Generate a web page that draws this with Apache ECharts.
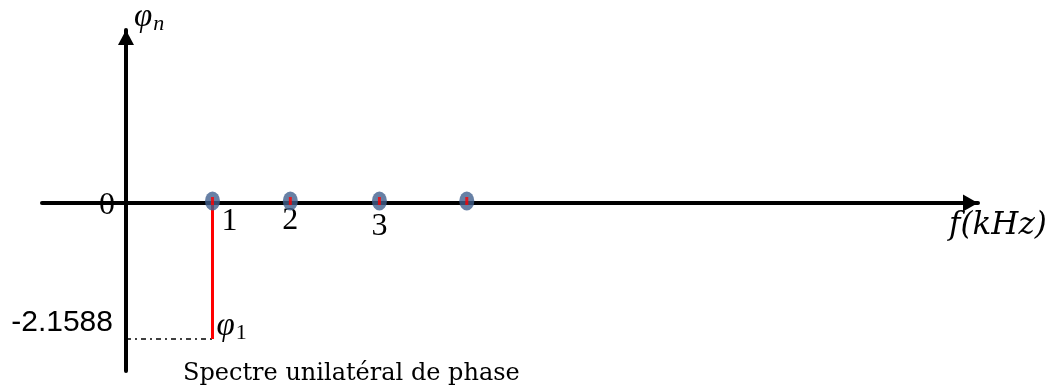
<!DOCTYPE html>
<html>
<head>
<meta charset="utf-8">
<script src="https://cdn.jsdelivr.net/npm/echarts@6/dist/echarts.min.js"></script>
<style>
  html, body { margin: 0; padding: 0; background: #fff; }
  #chart { width: 1053px; height: 389px; }
</style>
</head>
<body>
<div id="chart"></div>
<script>
// harmonic positions along f (kHz), as drawn in the picture
const harmonicPos = [1, 1.9, 2.93, 3.94];
const harmonicLabels = ['1', '2', '3', ''];
const phaseValues = [-2.1588, 0, 0, 0];
const yTickLabels = ['0', '-2.1588'];
const axisNames = { x: 'f(kHz)', y: 'φn' };
const title = 'Spectre unilatéral de phase';

const chart = echarts.init(document.getElementById('chart'));

const dots = harmonicPos.map((x, i) => [x, 0]);

chart.setOption({
  animation: false,
  grid: { left: 42, right: 75, top: 30, bottom: 18 },
  xAxis: {
    type: 'value',
    min: -0.971,
    max: 9.85,
    axisLine: {
      onZero: true,
      symbol: ['none', 'triangle'],
      symbolSize: [17, 15],
      symbolOffset: [0, -7.5],
      lineStyle: { color: '#000', width: 4 }
    },
    axisTick: { show: false },
    axisLabel: { show: false },
    splitLine: { show: false }
  },
  yAxis: {
    type: 'value',
    min: -2.667,
    max: 2.746,
    axisLine: {
      onZero: true,
      symbol: ['none', 'triangle'],
      symbolSize: [16, 15],
      symbolOffset: [0, -7.5],
      lineStyle: { color: '#000', width: 4 }
    },
    axisTick: { show: false },
    axisLabel: { show: false },
    splitLine: { show: false }
  },
  series: [
    {
      // dash-dot reference at phi_1
      type: 'line',
      data: [[0, phaseValues[0]], [harmonicPos[0], phaseValues[0]]],
      symbol: 'none',
      lineStyle: { color: '#000', width: 1.5, type: [5, 4, 2, 4] },
      z: 3
    },
    {
      // phase stem for harmonic 1
      type: 'line',
      data: [[harmonicPos[0], 0], [harmonicPos[0], phaseValues[0]]],
      symbol: 'none',
      lineStyle: { color: '#ff0000', width: 3 },
      z: 4
    },
    {
      type: 'scatter',
      data: dots,
      symbol: 'circle',
      symbolSize: [15, 19],
      symbolOffset: [0, -2],
      itemStyle: { color: '#41608f' },
      z: 5
    },
    {
      type: 'scatter',
      data: dots,
      symbol: 'rect',
      symbolSize: [3, 8],
      symbolOffset: [0, -2],
      itemStyle: { color: '#ff0000' },
      z: 6
    }
  ]
});

const px = (x, y) => chart.convertToPixel({ gridIndex: 0 }, [x, y]);
const o = px(0, 0);
const p1 = px(harmonicPos[0], phaseValues[0]);
const yTop = px(0, 2.746);

const serif = '"Liberation Serif", serif';
const texts = [];

// y tick labels
texts.push({ type: 'text', x: o[0] - 19, y: o[1] + 3,
  style: { text: yTickLabels[0], font: '32px ' + serif, fill: '#000', align: 'center', verticalAlign: 'middle' } });
texts.push({ type: 'text', x: o[0] - 13, y: p1[1] - 16,
  style: { text: yTickLabels[1], font: '30px "Liberation Sans", sans-serif', fill: '#000', align: 'right', verticalAlign: 'middle' } });

// harmonic labels
const labelOffsets = [[17, 19], [0, 18], [0, 24], [0, 0]];
harmonicLabels.forEach((lab, i) => {
  if (!lab) return;
  const p = px(harmonicPos[i], 0);
  texts.push({ type: 'text', x: p[0] + labelOffsets[i][0], y: p[1] + labelOffsets[i][1],
    style: { text: lab, font: '32px ' + serif, fill: '#000', align: 'center', verticalAlign: 'middle' } });
});

const rich = {
  m: { font: 'italic 33px ' + serif, fill: '#000' },
  s: { font: 'italic 22px ' + serif, fill: '#000', padding: [14, 0, 0, 1] },
  d: { font: '22px ' + serif, fill: '#000', padding: [14, 0, 0, 1] }
};

// phi_1 label
texts.push({ type: 'text', x: p1[0] + 4, y: p1[1] - 13,
  style: { text: '{m|φ}{d|1}', rich: rich, align: 'left', verticalAlign: 'middle' } });
// y axis name
texts.push({ type: 'text', x: 134, y: yTop[1] - 13,
  style: { text: '{m|φ}{s|n}', rich: rich, align: 'left', verticalAlign: 'middle' } });
// x axis name
texts.push({ type: 'text', x: 949, y: o[1] + 23,
  style: { text: axisNames.x, font: 'italic 31px "DejaVu Serif", serif', fill: '#000', align: 'left', verticalAlign: 'middle' } });
// caption
texts.push({ type: 'text', x: 183, y: 374,
  style: { text: title, font: '24px "DejaVu Serif", serif', fill: '#000', align: 'left', verticalAlign: 'middle' } });

chart.setOption({ graphic: texts });
</script>
</body>
</html>
